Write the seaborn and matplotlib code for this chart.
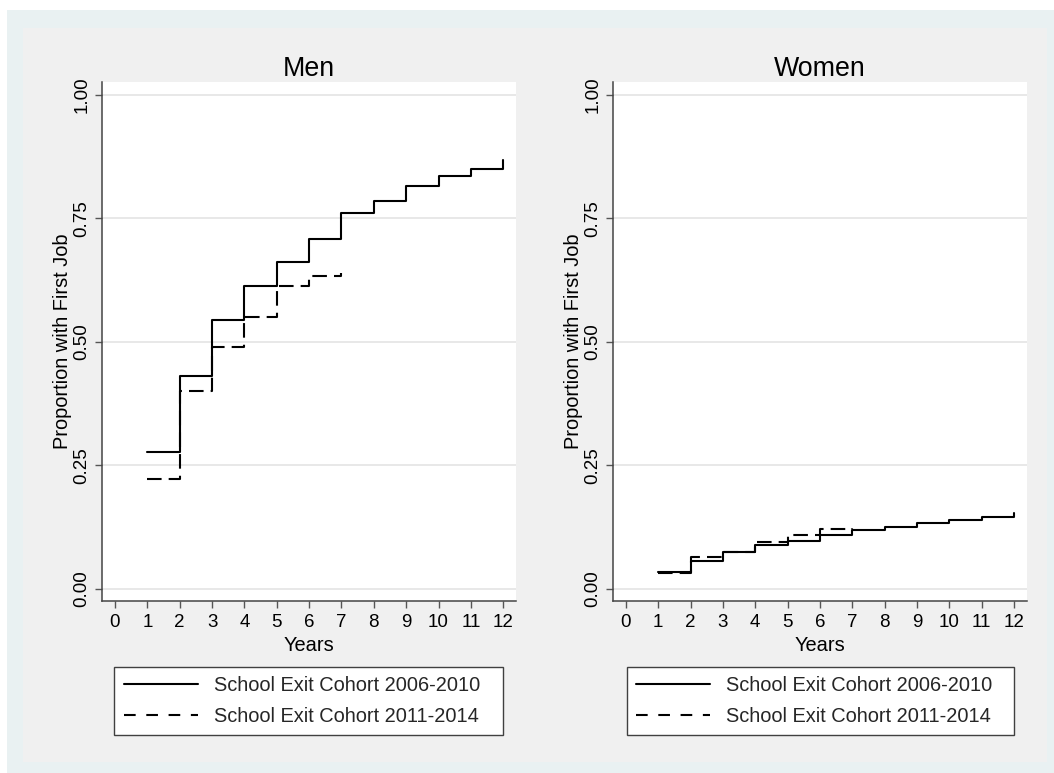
import numpy as np
import pandas as pd
import matplotlib
matplotlib.use("Agg")
import matplotlib.pyplot as plt
import seaborn as sns
from matplotlib.lines import Line2D
from matplotlib.patches import Rectangle

# ---------------- data ----------------
years_a = [1, 2, 3, 4, 5, 6, 7, 8, 9, 10, 11, 12]
years_b = [1, 2, 3, 4, 5, 6, 7]
men_a = [0.277, 0.431, 0.545, 0.613, 0.661, 0.709, 0.761, 0.785, 0.816, 0.836, 0.850, 0.867]
men_b = [0.223, 0.401, 0.489, 0.550, 0.613, 0.634, 0.640]
women_a = [0.034, 0.057, 0.0755, 0.088, 0.097, 0.109, 0.120, 0.126, 0.133, 0.140, 0.146, 0.153]
women_b = [0.032, 0.065, 0.0755, 0.0945, 0.109, 0.122, 0.124]
cohorts = ["School Exit Cohort 2006-2010", "School Exit Cohort 2011-2014"]
panels = ["Men", "Women"]
xticks = list(range(0, 13))
yticks = [0.0, 0.25, 0.50, 0.75, 1.00]
ytick_labels = ["0.00", "0.25", "0.50", "0.75", "1.00"]
xlabel = "Years"
ylabel = "Proportion with First Job"

series = {
    "Men": (men_a, men_b),
    "Women": (women_a, women_b),
}

# ---------------- style ----------------
sns.set_theme(style="white")
plt.rcParams["font.family"] = ["Liberation Sans", "DejaVu Sans"]

W, H = 1054, 773
fig = plt.figure(figsize=(W / 100, H / 100), dpi=100, facecolor="white")
fig.add_artist(Rectangle((7 / W, 0), 1 - 7 / W, 763 / H, transform=fig.transFigure,
                         facecolor="#e9f1f2", edgecolor="none", zorder=-20))
fig.add_artist(Rectangle((23 / W, 11 / H), 1024 / W, 734 / H, transform=fig.transFigure,
                         facecolor="#f0f0f0", edgecolor="none", zorder=-19))

ax_pos = {
    "Men": [101.7 / W, 172 / H, 414.2 / W, 519 / H],
    "Women": [612.7 / W, 172 / H, 413.8 / W, 519 / H],
}
leg_pos = {
    "Men": (114.3 / W, (H - 666.7) / H, 388.4 / W, 0),
    "Women": (626.7 / W, (H - 666.7) / H, 387.3 / W, 0),
}

FS_TICK = 13.5
FS_LAB = 14.4
FS_TITLE = 19.3
for panel in panels:
    a, b = series[panel]
    df = pd.DataFrame({
        "year": years_a + years_b,
        "prop": a + b,
        "cohort": [cohorts[0]] * len(years_a) + [cohorts[1]] * len(years_b),
    })
    ax = fig.add_axes(ax_pos[panel])
    ax.set_facecolor("white")
    sns.lineplot(data=df, x="year", y="prop", style="cohort", style_order=cohorts,
                 dashes={cohorts[0]: "", cohorts[1]: (7, 3.4)}, color="black",
                 drawstyle="steps-post", estimator=None, legend=False, ax=ax,
                 linewidth=1.5, zorder=3)
    ax.set_xlim(-0.41, 12.39)
    ax.set_ylim(-0.0243, 1.0257)
    ax.set_xticks(xticks)
    ax.set_xticklabels([str(t) for t in xticks])
    ax.set_yticks(yticks)
    ax.set_yticklabels(ytick_labels, rotation=90, va="center")
    ax.grid(axis="y", color="#e6e6e6", linewidth=1.3)
    ax.grid(axis="x", visible=False)
    ax.set_axisbelow(True)
    for s in ["top", "right"]:
        ax.spines[s].set_visible(False)
    for s in ["left", "bottom"]:
        ax.spines[s].set_color("#444444")
        ax.spines[s].set_linewidth(1.1)
    ax.tick_params(axis="both", which="major", bottom=True, left=True, direction="out",
                   length=4.8, width=1.0, color="#555555", labelsize=FS_TICK,
                   labelcolor="black")
    ax.tick_params(axis="x", pad=4.5)
    ax.tick_params(axis="y", pad=3.1)
    ax.set_xlabel(xlabel, fontsize=FS_LAB, labelpad=3.8, color="black")
    ax.set_ylabel(ylabel, fontsize=FS_LAB, labelpad=1.5, color="black")
    ax.set_title(panel, fontsize=FS_TITLE, pad=4, color="black")

    handles = [Line2D([], [], color="black", lw=1.5),
               Line2D([], [], color="black", lw=1.5, dashes=(5.6, 5.1))]
    leg = ax.legend(handles, cohorts, loc="upper left", bbox_to_anchor=leg_pos[panel],
                    bbox_transform=fig.transFigure, mode="expand", borderaxespad=0,
                    fontsize=FS_LAB, frameon=True, fancybox=False, edgecolor="#404040",
                    facecolor="white", framealpha=1, handlelength=3.7,
                    handletextpad=0.8, borderpad=0.47, labelspacing=0.58)
    leg.get_frame().set_linewidth(1.0)

fig.savefig("out.png", dpi=100)
